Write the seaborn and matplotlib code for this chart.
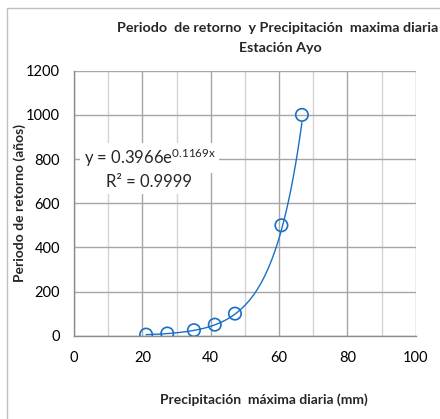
import numpy as np
import pandas as pd
import matplotlib
matplotlib.use("Agg")
import matplotlib.pyplot as plt
import seaborn as sns
from matplotlib.patches import Rectangle

# Data
precip_mm = [21.1, 27.3, 35.1, 41.2, 47.1, 60.7, 66.7]
return_period = [5, 10, 25, 50, 100, 500, 1000]
coef_a = 0.3966
coef_b = 0.1169
r2 = 0.9999
x_ticks = [0, 20, 40, 60, 80, 100]
y_ticks = [0, 200, 400, 600, 800, 1000, 1200]

sns.set_theme(style="white")
plt.rcParams['font.family'] = ['Lato', 'DejaVu Sans']
plt.rcParams['mathtext.fontset'] = 'custom'
plt.rcParams['mathtext.rm'] = 'Lato'
plt.rcParams['mathtext.it'] = 'Lato'

fig = plt.figure(figsize=(4.4, 4.19), dpi=100)
ax = fig.add_axes([74/440, 1-335.7/419, (415.7-74)/440, (335.7-70.7)/419])

blue = "#1a6fc4"
xs = np.linspace(min(precip_mm), max(precip_mm), 200)
trend = pd.DataFrame({"x": xs, "y": coef_a*np.exp(coef_b*xs)})
pts = pd.DataFrame({"x": precip_mm, "y": return_period})

sns.lineplot(data=trend, x="x", y="y", ax=ax, color=blue, lw=1.0, zorder=3)
sns.scatterplot(data=pts, x="x", y="y", ax=ax, s=80, facecolor="none",
                edgecolor=blue, linewidth=1.2, zorder=4)

ax.set_xlim(0, 100)
ax.set_ylim(0, 1200)
ax.set_xticks(x_ticks)
ax.set_yticks(y_ticks)
ax.set_xticks(np.arange(10, 100, 20), minor=True)
ax.grid(which="major", color="#a6a6a6", lw=1.0)
ax.grid(which="minor", axis="x", color="#d4d4d4", lw=1.0)
ax.set_axisbelow(True)
for s in ["top", "right"]:
    ax.spines[s].set_visible(False)
for s in ["left", "bottom"]:
    ax.spines[s].set_color("#8c8c8c")
    ax.spines[s].set_linewidth(1.0)
ax.tick_params(axis="both", labelsize=10.5, colors="black", length=0, pad=10)
ax.tick_params(axis="x", pad=11)

ax.set_xlabel("Precipitación  máxima diaria (mm)", fontsize=10, fontweight="bold")
ax.set_ylabel("Periodo de retorno (años)", fontsize=10, fontweight="bold")
ax.xaxis.set_label_coords((264-74)/341.7, (335.7-400)/265)
ax.yaxis.set_label_coords((20-74)/341.7, (335.7-203)/265)
ax.xaxis.label.set_va("center")
ax.yaxis.label.set_va("center")

fig.text(278/440, 1-28/419, "Periodo  de retorno  y Precipitación  maxima diaria",
         ha="center", va="center", fontsize=10.3, fontweight="bold")
fig.text(280/440, 1-48/419, "Estación Ayo", ha="center", va="center",
         fontsize=10.3, fontweight="bold")

ax.text(2.8, 805, r"y = %.4fe$^{\mathrm{%.4fx}}$" % (coef_a, coef_b), fontsize=12,
        va="center", ha="left", zorder=5,
        bbox=dict(facecolor="white", edgecolor="none", pad=2.5))
ax.text(9.5, 695, "R² = %.4f" % r2, fontsize=12, va="center", ha="left", zorder=5,
        bbox=dict(facecolor="white", edgecolor="none", pad=2.5))

fig.patches.append(Rectangle((7/440, -0.1), 1.2, 1-8/419+0.1, transform=fig.transFigure,
                             fill=False, edgecolor="#bfbfbf", lw=1.0))

fig.savefig("out.png", dpi=100)
